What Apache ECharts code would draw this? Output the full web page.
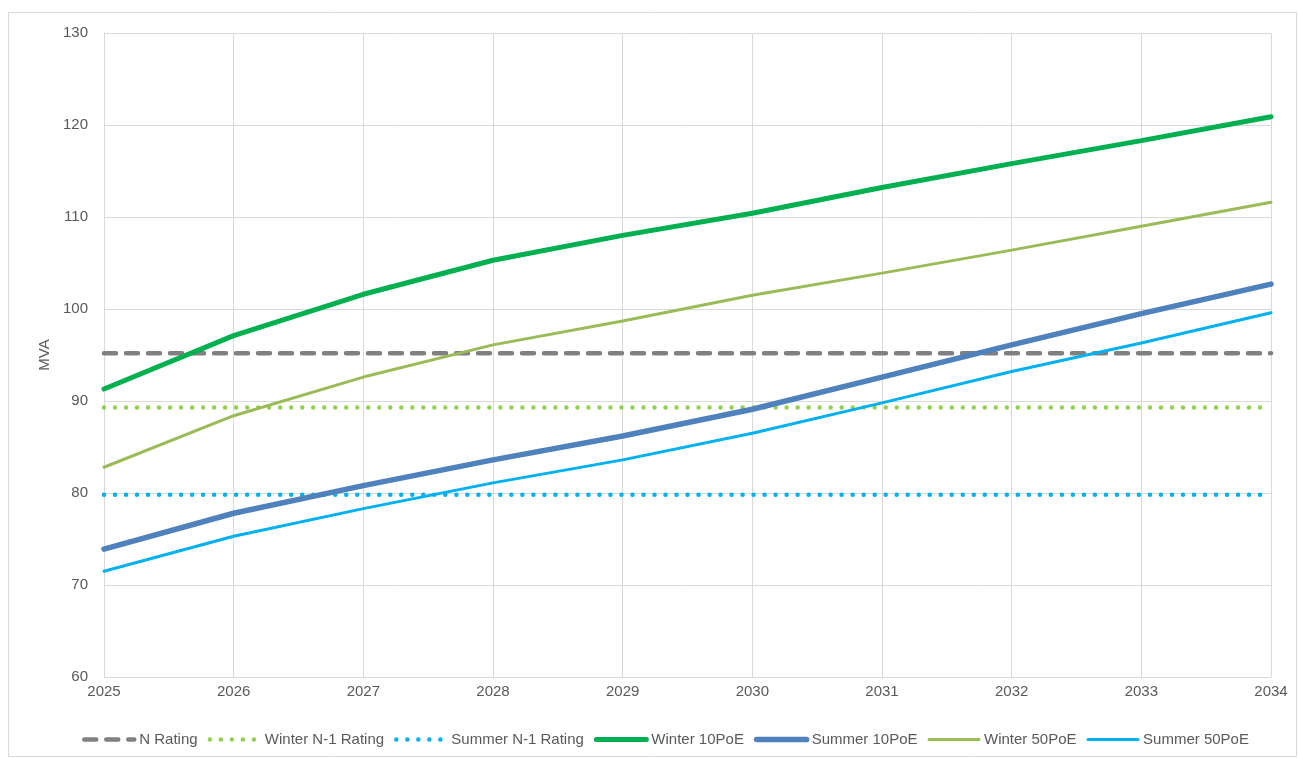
<!DOCTYPE html>
<html><head><meta charset="utf-8">
<script src="https://cdn.jsdelivr.net/npm/echarts@6/dist/echarts.min.js"></script>
<style>html,body{margin:0;padding:0;background:#fff}#c{width:1298px;height:758px}</style>
</head><body><div id="c"></div>
<script>
const years = ['2025','2026','2027','2028','2029','2030','2031','2032','2033','2034'];
const nRating = [95.2,95.2,95.2,95.2,95.2,95.2,95.2,95.2,95.2,95.2];
const winterN1 = [89.3,89.3,89.3,89.3,89.3,89.3,89.3,89.3,89.3,89.3];
const summerN1 = [79.8,79.8,79.8,79.8,79.8,79.8,79.8,79.8,79.8,79.8];
const winter10 = [91.3,97.1,101.6,105.3,108.0,110.4,113.2,115.8,118.3,120.9];
const summer10 = [73.9,77.8,80.8,83.6,86.2,89.1,92.6,96.1,99.5,102.7];
const winter50 = [82.8,88.4,92.6,96.1,98.7,101.5,103.9,106.4,109.0,111.6];
const summer50 = [71.5,75.3,78.3,81.1,83.6,86.5,89.8,93.2,96.3,99.6];
const names = ['N Rating','Winter N-1 Rating','Summer N-1 Rating','Winter 10PoE','Summer 10PoE','Winter 50PoE','Summer 50PoE'];

const font = 'Liberation Sans';
function ln(name, data, color, width, type, z){
  return {name, type:'line', data, symbol:'none', smooth:false, z:z||2,
    lineStyle:{color, width, type:type||'solid', cap:'round'}, itemStyle:{color}};
}
const chart = echarts.init(document.getElementById('c'));
chart.setOption({
  animation:false,
  graphic:[{type:'rect', shape:{x:8.5,y:12.5,width:1288,height:744}, style:{fill:null, stroke:'#d9d9d9', lineWidth:1}, silent:true}],
  grid:{left:104, right:27, top:33, bottom:81},
  legend:{top:727, left:77, itemWidth:50, itemHeight:10, itemGap:10,
    lineStyle:{width:'inherit'}, itemStyle:{opacity:0},
    textStyle:{color:'#595959', fontSize:15, fontFamily:font},
    data:names},
  xAxis:{type:'category', data:years, boundaryGap:false,
    axisLine:{lineStyle:{color:'#d9d9d9', width:1}}, axisTick:{show:false},
    axisLabel:{color:'#595959', fontSize:15, fontFamily:font, margin:7},
    splitLine:{show:true, lineStyle:{color:'#d9d9d9', width:1}}},
  yAxis:{type:'value', min:60, max:130, interval:10, name:'MVA', nameLocation:'middle', nameGap:52,
    nameTextStyle:{color:'#595959', fontSize:15, fontFamily:font},
    axisLine:{show:true, lineStyle:{color:'#d9d9d9'}}, axisTick:{show:false},
    axisLabel:{color:'#595959', fontSize:15, fontFamily:font, margin:16},
    splitLine:{lineStyle:{color:'#d9d9d9', width:1}}},
  series:[
    ln(names[0], nRating, '#808080', 4.5, [12,10]),
    ln(names[1], winterN1, '#92D050', 4.5, [0.01,11]),
    ln(names[2], summerN1, '#00B0F0', 4.5, [0.01,11]),
    ln(names[3], winter10, '#00B050', 5, 'solid', 3),
    ln(names[4], summer10, '#4F81BD', 5.5, 'solid', 3),
    ln(names[5], winter50, '#9BBB59', 3, 'solid', 3),
    ln(names[6], summer50, '#00B0F0', 3, 'solid', 3)
  ]
});
</script></body></html>
